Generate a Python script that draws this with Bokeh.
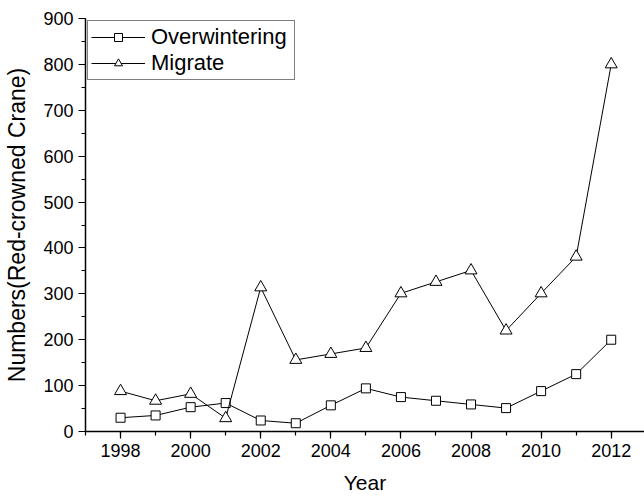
from bokeh.plotting import figure
from bokeh.models import Range1d, FixedTicker, Legend, LegendItem
from bokeh.embed import file_html
from bokeh.resources import INLINE

years = [1998, 1999, 2000, 2001, 2002, 2003, 2004, 2005,
         2006, 2007, 2008, 2009, 2010, 2011, 2012]
overwintering = [30, 35, 53, 62, 24, 18, 57, 94, 75, 67, 59, 51, 88, 125, 200]
migrate = [88, 67, 82, 29, 314, 156, 169, 182, 301, 326, 351, 220, 301, 381, 800]

x_ticks = [1998, 2000, 2002, 2004, 2006, 2008, 2010, 2012]
y_ticks = [0, 100, 200, 300, 400, 500, 600, 700, 800, 900]

FONT = "Liberation Sans"

p = figure(width=644, height=496, output_backend="svg", toolbar_location=None,
           x_range=Range1d(1997, 2012.95), y_range=Range1d(0, 900),
           min_border_left=85, min_border_right=0, min_border_top=18,
           min_border_bottom=65)
p.outline_line_color = None
p.xgrid.visible = False
p.ygrid.visible = False
p.background_fill_color = "white"

# lines and open markers
l1 = p.line(years, overwintering, line_color="black", line_width=1)
s1 = p.scatter(years, overwintering, marker="square", size=9,
               fill_color="white", line_color="black", line_width=1)
l2 = p.line(years, migrate, line_color="black", line_width=1)
s2 = p.scatter(years, migrate, marker="triangle", size=12,
               fill_color="white", line_color="black", line_width=1)

# axes
p.xaxis.ticker = FixedTicker(ticks=x_ticks, minor_ticks=list(range(1997, 2014)))
p.yaxis.ticker = FixedTicker(ticks=y_ticks, minor_ticks=list(range(0, 901, 50)))
for ax in (p.xaxis, p.yaxis):
    ax.axis_line_color = "black"
    ax.axis_line_width = 1.5
    ax.major_tick_line_color = "black"
    ax.minor_tick_line_color = "black"
    ax.major_tick_line_width = 1.2
    ax.minor_tick_line_width = 1.2
    ax.major_tick_out = 7
    ax.major_tick_in = 0
    ax.minor_tick_out = 4
    ax.minor_tick_in = 0
    ax.major_label_text_font = FONT
    ax.major_label_text_font_size = "18px"
    ax.major_label_text_color = "black"
    ax.axis_label_text_font = FONT
    ax.axis_label_text_font_style = "normal"
    ax.axis_label_text_color = "black"

p.xaxis.axis_label = "Year"
p.yaxis.axis_label = "Numbers(Red-crowned Crane)"
p.xaxis.axis_label_text_font_size = "21px"
p.yaxis.axis_label_text_font_size = "23px"
p.xaxis.major_label_standoff = 5
p.xaxis.axis_label_standoff = 11
p.yaxis.major_label_standoff = 5
p.yaxis.axis_label_standoff = 10

legend = Legend(items=[
    LegendItem(label="Overwintering", renderers=[l1, s1]),
    LegendItem(label="Migrate", renderers=[l2, s2]),
])
legend.location = "top_left"
legend.margin = 2
legend.padding = 3
legend.spacing = 0
legend.glyph_width = 54
legend.glyph_height = 20
legend.label_height = 20
legend.label_width = 140
legend.label_standoff = 6
legend.label_text_font = FONT
legend.label_text_font_size = "22px"
legend.label_text_color = "black"
legend.border_line_color = "black"
legend.border_line_width = 1
legend.background_fill_alpha = 1
p.add_layout(legend)

open("out.html", "w").write(file_html(p, INLINE))
